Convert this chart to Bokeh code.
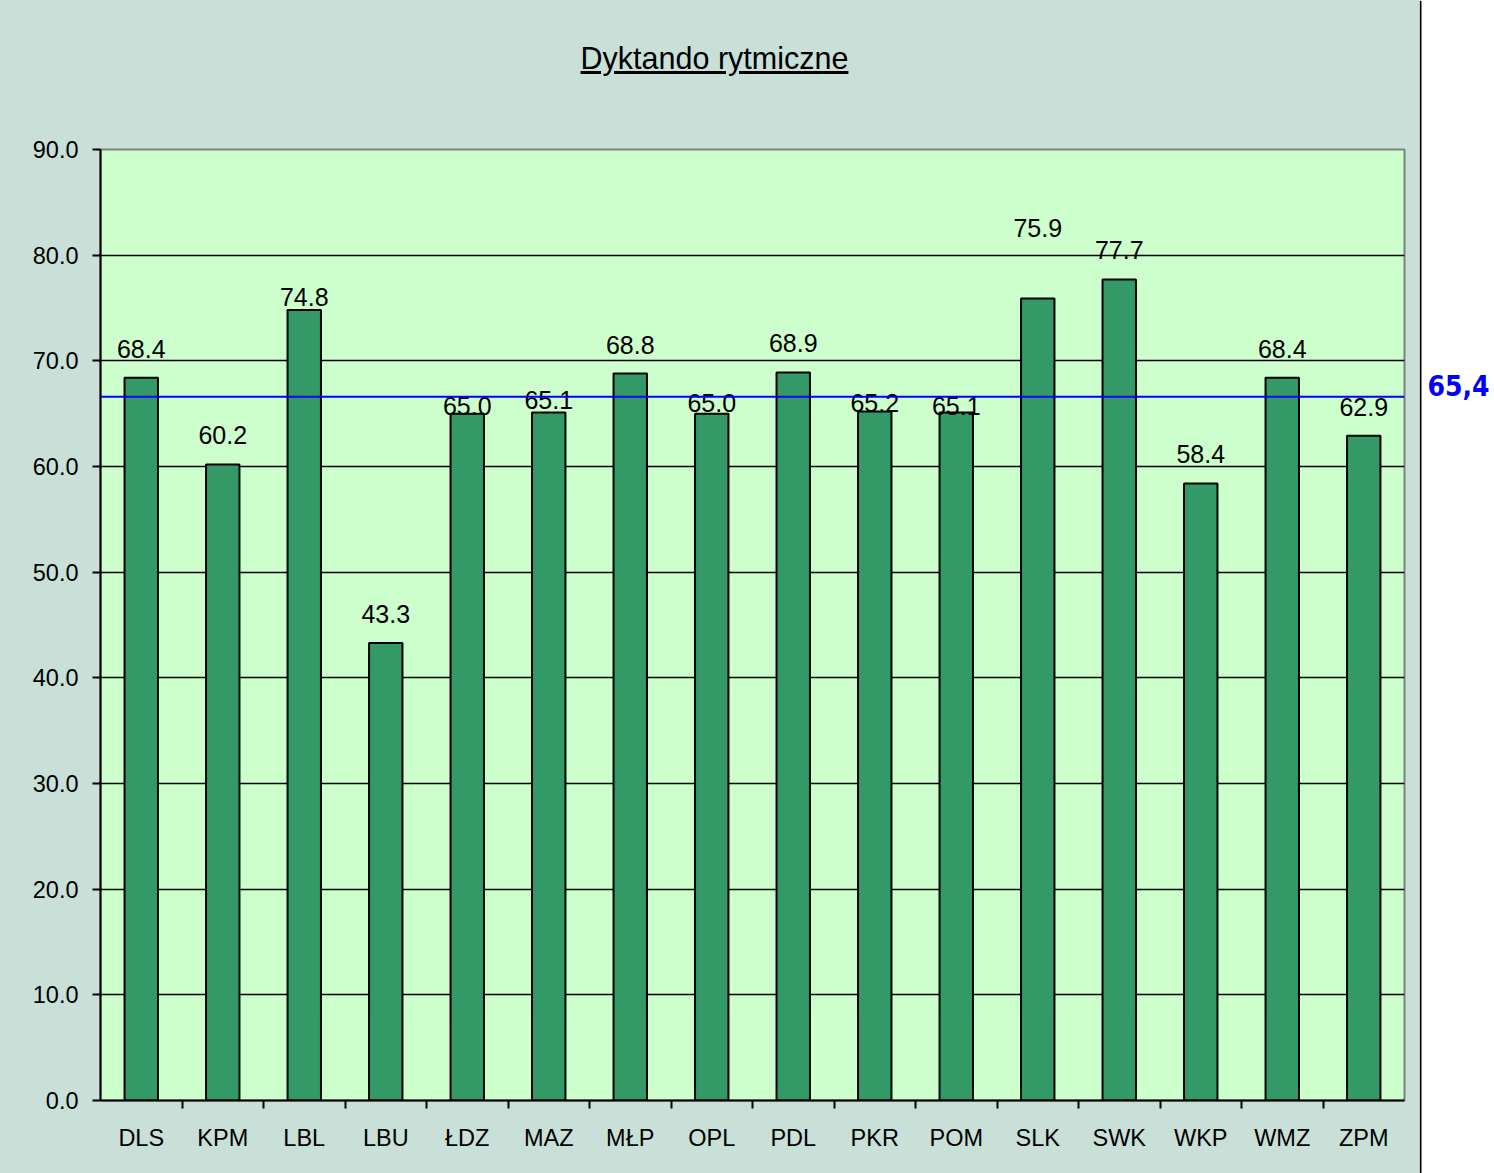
from bokeh.plotting import figure
from bokeh.layouts import row, column
from bokeh.models import (Range1d, FactorRange, LinearAxis, CategoricalAxis, FixedTicker,
                          NumeralTickFormatter, Label, Span, ColumnDataSource, Div)
from bokeh.core.properties import value
from bokeh.embed import file_html
from bokeh.resources import INLINE

# ---- data ----
regions = ["DLS", "KPM", "LBL", "LBU", "ŁDZ", "MAZ", "MŁP", "OPL", "PDL", "PKR",
           "POM", "SLK", "SWK", "WKP", "WMZ", "ZPM"]
scores = [68.4, 60.2, 74.8, 43.3, 65.0, 65.1, 68.8, 65.0, 68.9, 65.2,
          65.1, 75.9, 77.7, 58.4, 68.4, 62.9]
y_ticks = [0, 10, 20, 30, 40, 50, 60, 70, 80, 90]
reference_line = 66.6
reference_label = "65,4"
title_text = "Dyktando rytmiczne"

# ---- style ----
label_dy_px = [29, 29, 13, 29, 8, 13, 29, 11, 29, 9, 7, 70, 29, 29, 29, 29]
FONT = "Liberation Sans"
BG = "#C8E0D8"
W, TOTAL_H = 1419, 1173
TITLE_H = 90
H = TOTAL_H - TITLE_H
ML, MR, MT, MB = 100, 15, 149 - TITLE_H, 73
FRAME_H = H - MT - MB
Y_MAX = 90.0
PPU = FRAME_H / Y_MAX
N = len(regions)

title_div = Div(
    text='<div style="position:relative; top:41px; width:%dpx; line-height:34px; '
         'text-align:center; text-indent:10px; font-family:\'Liberation Sans\'; '
         'font-size:30.5px; color:black;"><u>%s</u></div>' % (W, title_text),
    width=W, height=TITLE_H,
    styles={"background-color": BG, "margin": "0", "padding": "0"})

p = figure(width=W, height=H, x_range=FactorRange(*regions), y_range=Range1d(0, Y_MAX),
           output_backend="svg", toolbar_location=None,
           x_axis_location=None, y_axis_location=None,
           min_border_left=ML, min_border_right=MR, min_border_top=MT, min_border_bottom=MB)
p.background_fill_color = "#CCFFCC"
p.border_fill_color = BG
p.outline_line_color = "#808080"
p.outline_line_width = 2
p.styles = {"background-color": BG}

# y axis
yax = LinearAxis(ticker=FixedTicker(ticks=y_ticks), formatter=NumeralTickFormatter(format="0.0"))
yax.axis_line_color = "black"
yax.axis_line_width = 2
yax.major_tick_out = 8
yax.major_tick_in = 0
yax.major_tick_line_width = 2
yax.minor_tick_line_color = None
yax.major_label_standoff = 14
yax.major_label_text_font = FONT
yax.major_label_text_font_size = "23.5px"
yax.major_label_text_color = "black"
p.add_layout(yax, "left")

# x boundary ticks axis (factor centres placed on category boundaries)
edges = ["e%d" % i for i in range(N + 1)]
p.extra_x_ranges = {"edges": FactorRange(*edges, range_padding=-0.5,
                                         range_padding_units="absolute")}
tax = CategoricalAxis(x_range_name="edges")
tax.axis_line_color = "black"
tax.axis_line_width = 2
tax.major_tick_out = 8
tax.major_tick_in = 0
tax.major_tick_line_width = 2
tax.minor_tick_line_color = None
tax.major_label_text_font_size = "1px"
tax.major_label_text_color = None
tax.major_label_standoff = 0
p.add_layout(tax, "below")

# category labels axis
cax = CategoricalAxis()
cax.axis_line_color = None
cax.major_tick_line_color = None
cax.minor_tick_line_color = None
cax.major_label_standoff = 10
cax.major_label_text_font = FONT
cax.major_label_text_font_size = "23.5px"
cax.major_label_text_color = "black"
p.add_layout(cax, "below")

# grid
p.ygrid.grid_line_color = "black"
p.ygrid.grid_line_width = 1.5
p.ygrid.ticker = FixedTicker(ticks=y_ticks)
p.xgrid.grid_line_color = None

# bars
src = ColumnDataSource(dict(
    region=regions, score=scores,
    label=["{:.1f}".format(v) for v in scores],
    label_y=[v + d / PPU for v, d in zip(scores, label_dy_px)],
))
p.vbar(x="region", top="score", width=0.41, bottom=0, source=src,
       fill_color="#339966", line_color="black", line_width=2)

# reference line
p.add_layout(Span(location=reference_line, dimension="width",
                  line_color="#0000FF", line_width=2))

# data labels
p.text(x="region", y="label_y", text="label", source=src, text_align="center",
       text_baseline="alphabetic", text_font=value(FONT), text_font_size="25px",
       text_color="black")

chart = column(title_div, p, styles={"background-color": BG})

# side panel: chart border + reference value label
P2W = 1494 - W
p2 = figure(width=P2W, height=TOTAL_H, x_range=Range1d(0, P2W),
            y_range=Range1d(-MB / PPU, Y_MAX + 149 / PPU),
            output_backend="svg", toolbar_location=None,
            x_axis_location=None, y_axis_location=None,
            min_border_left=0, min_border_right=0, min_border_top=0, min_border_bottom=0)
p2.background_fill_color = "white"
p2.border_fill_color = "white"
p2.outline_line_color = None
for g in p2.grid:
    g.visible = False
p2.add_layout(Span(location=1, dimension="height", line_color="black", line_width=2))
p2.add_layout(Label(x=1458 - W, y=reference_line + 11 / PPU, text=reference_label,
                    text_align="center", text_baseline="middle",
                    text_font="DejaVu Sans Condensed", text_font_style="bold",
                    text_font_size="28px", text_color="#0000FF"))

layout = row(chart, p2)
open("out.html", "w").write(file_html(layout, INLINE))
